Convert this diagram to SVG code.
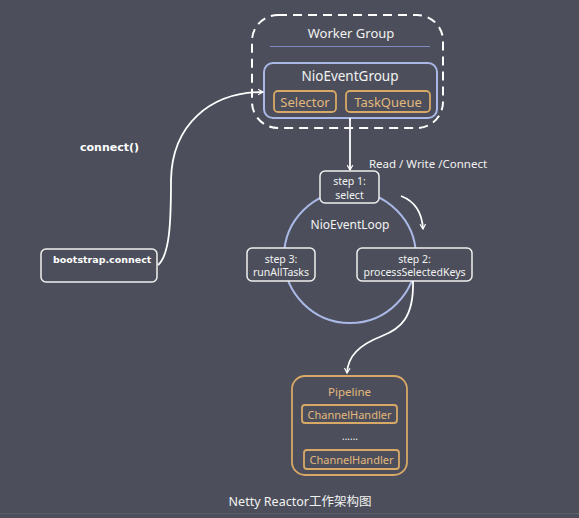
<svg xmlns="http://www.w3.org/2000/svg" width="579" height="518" viewBox="0 0 579 518">
  <style>
    .t { font-family: "Noto Sans", "Noto Sans CJK SC", sans-serif; fill: #f2f2f2; text-anchor: middle; }
    .o { fill: #e3b77c; }
    .b { font-family: "DejaVu Sans", sans-serif; font-weight: bold; fill: #ffffff; }
    .box { fill: #4c4f5b; stroke: #f0f0f0; stroke-width: 1.5; }
    .obox { fill: none; stroke: #d8a866; stroke-width: 1.8; }
    .bbox { fill: none; stroke: #aab8e6; stroke-width: 2; }
    .edge { fill: none; stroke: #ffffff; stroke-width: 1.8; }
  </style>
  <defs>
    <marker id="arrow" viewBox="0 0 10 10" refX="8" refY="5" markerWidth="7" markerHeight="7" orient="auto" markerUnits="userSpaceOnUse">
      <path d="M1,1 L8,5 L1,9" fill="none" stroke="#ffffff" stroke-width="1.6"/>
    </marker>
  </defs>

  <rect width="579" height="518" fill="#4c4f5b"/>
  <line x1="0" y1="513.5" x2="579" y2="513.5" stroke="#5c606c" stroke-width="1"/>

  <!-- worker group -->
  <g id="worker-group">
    <rect x="252" y="15" width="191" height="113" rx="26" fill="none" stroke="#ffffff" stroke-width="2" stroke-dasharray="9,6"/>
    <text class="t" x="351" y="38" font-size="13">Worker Group</text>
    <line x1="270" y1="46.5" x2="430" y2="46.5" stroke="#7c8cc0" stroke-width="1"/>
  </g>

  <g id="nio-event-group">
    <rect class="bbox" x="264" y="63" width="173" height="55" rx="9"/>
    <text class="t" x="350" y="81" font-size="13.5">NioEventGroup</text>
    <rect class="obox" x="274" y="91" width="62" height="21" rx="4"/>
    <text class="t o" x="305" y="106.5" font-size="13">Selector</text>
    <rect class="obox" x="346" y="91" width="84" height="21" rx="4"/>
    <text class="t o" x="388" y="106.5" font-size="13">TaskQueue</text>
  </g>

  <!-- event loop -->
  <g id="nio-event-loop">
    <circle cx="350" cy="257" r="66" fill="none" stroke="#aab8e6" stroke-width="2"/>
    <text class="t" x="350" y="229" font-size="12">NioEventLoop</text>
  </g>

  <g id="step1">
    <rect class="box" x="320" y="171" width="59" height="32" rx="5"/>
    <text class="t" x="349.5" y="185" font-size="10.5">step 1:</text>
    <text class="t" x="349.5" y="198.5" font-size="10.5">select</text>
  </g>

  <g id="step2">
    <rect class="box" x="357" y="248" width="115" height="33" rx="5"/>
    <text class="t" x="414.5" y="262.5" font-size="10.5">step 2:</text>
    <text class="t" x="414.5" y="276" font-size="10.5">processSelectedKeys</text>
  </g>

  <g id="step3">
    <rect class="box" x="247" y="248" width="68" height="33" rx="5"/>
    <text class="t" x="281" y="262.5" font-size="10.5">step 3:</text>
    <text class="t" x="281" y="276" font-size="10.5">runAllTasks</text>
  </g>

  <g id="pipeline">
    <rect class="obox" x="292" y="376" width="115" height="99" rx="13" stroke-width="2"/>
    <text class="t o" x="349.5" y="396" font-size="11.5">Pipeline</text>
    <rect class="obox" x="302" y="405" width="95" height="18" rx="3" stroke-width="1.5"/>
    <text class="t o" x="349.5" y="418.5" font-size="11">ChannelHandler</text>
    <text class="t" x="350" y="440" font-size="10">......</text>
    <rect class="obox" x="304" y="450" width="95" height="19" rx="3" stroke-width="1.5"/>
    <text class="t o" x="351.5" y="464" font-size="11">ChannelHandler</text>
  </g>

  <g id="bootstrap">
    <rect class="box" x="41" y="249" width="116" height="33" rx="5" style="fill:none"/>
    <text class="b" x="53" y="263" font-size="9.5">bootstrap.connect</text>
  </g>

  <!-- connectors -->
  <g id="connectors">
    <path class="edge" d="M350,118 L350,170" marker-end="url(#arrow)"/>
    <path class="edge" d="M401,196 C414,201 422,212 423,229" marker-end="url(#arrow)"/>
    <path class="edge" d="M413,281 C414,318 400,329 382,336 C359,345 348,356 347,373" marker-end="url(#arrow)"/>
    <path class="edge" d="M158,265 C170,255 171,220 171,180 C172,125 210,92 263,92" marker-end="url(#arrow)"/>
  </g>

  <g id="labels">
    <text class="b" x="80" y="151" font-size="11">connect()</text>
    <text class="t" x="428" y="168" font-size="11.5">Read / Write /Connect</text>
    <text class="t" x="300" y="506" font-size="12.5">Netty Reactor工作架构图</text>
  </g>
</svg>
